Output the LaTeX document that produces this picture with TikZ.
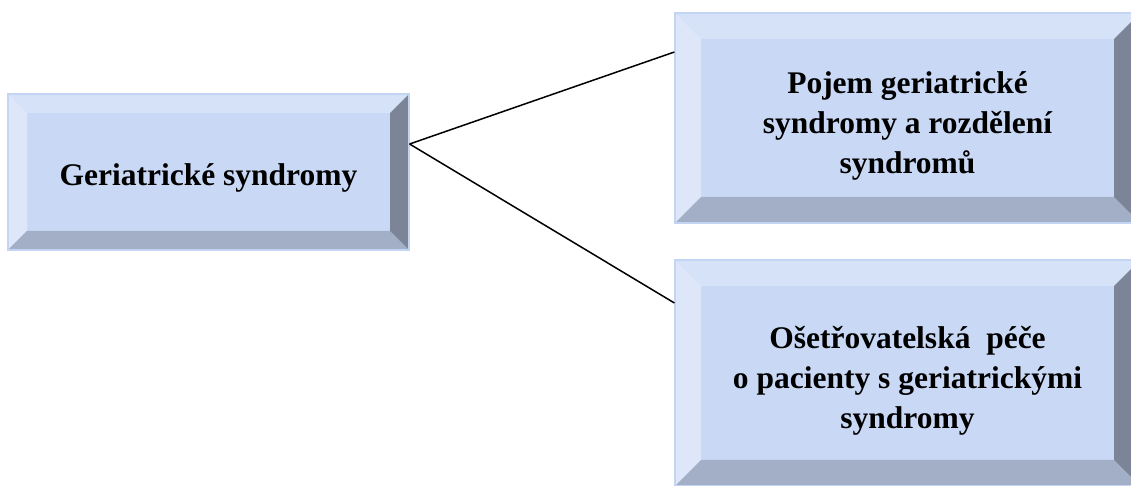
\documentclass[tikz,border=0pt]{standalone}
\usepackage{fontspec}
\setmainfont{Liberation Serif}
\usetikzlibrary{positioning}

\definecolor{faceblue}{RGB}{201,217,245}
\definecolor{topblue}{RGB}{214,226,248}
\definecolor{leftblue}{RGB}{222,230,250}
\definecolor{bottomblue}{RGB}{163,174,199}
\definecolor{rightblue}{RGB}{124,132,152}
\definecolor{edgeblue}{RGB}{196,213,243}

\tikzset{
  bevelsize/.store in=\bevelsize,
  bevelsize=9pt,
  bevelbox/.style={
    draw=edgeblue,
    line width=0.6pt,
    fill=faceblue,
    inner sep=0pt,
    path picture={
      \coordinate (nw) at (path picture bounding box.north west);
      \coordinate (ne) at (path picture bounding box.north east);
      \coordinate (sw) at (path picture bounding box.south west);
      \coordinate (se) at (path picture bounding box.south east);
      \coordinate (inw) at ([xshift=\bevelsize,yshift=-\bevelsize]nw);
      \coordinate (ine) at ([xshift=-\bevelsize,yshift=-\bevelsize]ne);
      \coordinate (isw) at ([xshift=\bevelsize,yshift=\bevelsize]sw);
      \coordinate (ise) at ([xshift=-\bevelsize,yshift=\bevelsize]se);
      \fill[topblue] (nw) -- (ne) -- (ine) -- (inw) -- cycle;
      \fill[leftblue] (nw) -- (inw) -- (isw) -- (sw) -- cycle;
      \fill[bottomblue] (sw) -- (isw) -- (ise) -- (se) -- cycle;
      \fill[rightblue] (ne) -- (se) -- (ise) -- (ine) -- cycle;
    },
  },
  boxtext/.style={
    inner sep=0pt,
    align=center,
    font=\fontsize{15.75pt}{20pt}\selectfont\bfseries,
  },
  link/.style={
    draw=black,
    line width=0.75pt,
  },
}

\begin{document}
\begin{tikzpicture}[x=0.5pt,y=-0.5pt]
  \useasboundingbox (0,0) rectangle (1131,486);
  \clip (0,0) rectangle (1131,486);

  % topic boxes
  \node[bevelbox, bevelsize=9.5pt, minimum width=200.5pt, minimum height=78pt]
    (topic) at (208.5,172) {};
  \node[bevelbox, bevelsize=13pt, minimum width=232.5pt, minimum height=105pt]
    (concept) at (907.5,118) {};
  \node[bevelbox, bevelsize=13pt, minimum width=232.5pt, minimum height=113pt]
    (care) at (907.5,373) {};

  % texts
  \node[boxtext] (topic-text) at ([yshift=-3pt]topic.center) {Geriatrické syndromy};
  \node[boxtext] (concept-text) at ([yshift=-4pt]concept.center)
    {Pojem geriatrické\\syndromy a rozdělení\\syndromů};
  \node[boxtext] (care-text) at ([yshift=-4pt]care.center)
    {Ošetřovatelská\ \ péče\\o pacienty s geriatrickými\\syndromy};

  % connectors
  \draw[link] ([yshift=14pt]topic.east) -- ([yshift=33pt]concept.west);
  \draw[link] ([yshift=14pt]topic.east) -- ([yshift=35pt]care.west);
\end{tikzpicture}
\end{document}
